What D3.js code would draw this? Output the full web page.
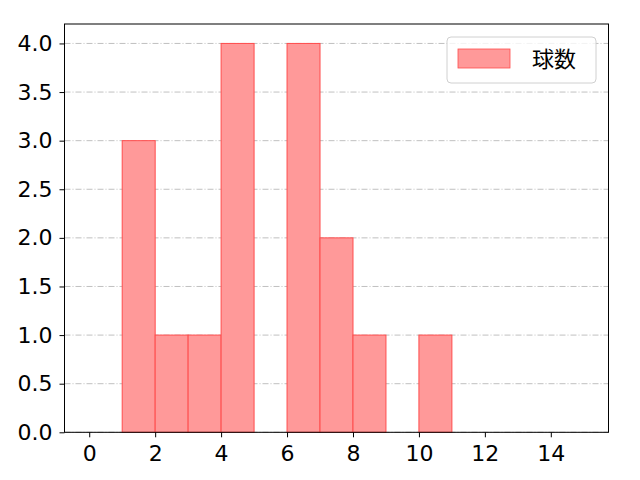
<!DOCTYPE html>
<html>
<head>
<meta charset="utf-8">
<script src="https://cdn.jsdelivr.net/npm/d3@7"></script>
<style>
  body { margin: 0; background: #fff; }
  text { font-family: "Noto Sans CJK JP", "DejaVu Sans", sans-serif; }
</style>
</head>
<body>
<div id="chart"></div>
<script>
// histogram bins (left edge, right edge) and counts
var binStarts = [1, 2, 3, 4, 5, 6, 7, 8, 9, 10];
var binEnds   = [2, 3, 4, 5, 6, 7, 8, 9, 10, 11];
var counts    = [3, 1, 1, 4, 0, 4, 2, 1, 0, 1];
var xTicks = [0, 2, 4, 6, 8, 10, 12, 14];
var yTicks = [0, 0.5, 1, 1.5, 2, 2.5, 3, 3.5, 4];
var seriesName = "球数";

var width = 640, height = 480,
    mLeft = 64.5, mRight = 608.5, mTop = 24, mBottom = 432.3;

var svg = d3.select("#chart").append("svg")
    .attr("width", width + "px")
    .attr("height", height + "px");

var x = d3.scaleLinear().domain([-0.75, 15.75]).range([mLeft, mRight]);
var y = d3.scaleLinear().domain([0, 4.2]).range([mBottom, mTop]);

// grid
svg.append("g").selectAll("line")
    .data(yTicks)
    .enter().append("line")
        .attr("x1", mLeft).attr("x2", mRight)
        .attr("y1", function(d) { return y(d); })
        .attr("y2", function(d) { return y(d); })
        .attr("stroke", "#b0b0b0")
        .attr("stroke-width", 0.8)
        .attr("stroke-dasharray", "6,2,1,2");

var bins = binStarts.map(function(s, i) { return {x0: s, x1: binEnds[i], n: counts[i]}; });
svg.append("g").selectAll("rect")
    .data(bins.filter(function(d) { return d.n > 0; }))
    .enter().append("rect")
        .attr("x", function(d) { return x(d.x0); })
        .attr("y", function(d) { return y(d.n); })
        .attr("width", function(d) { return x(d.x1) - x(d.x0); })
        .attr("height", function(d) { return y(0) - y(d.n); })
        .attr("fill", "#ff9999")
        .attr("stroke", "#ff4d4d")
        .attr("stroke-width", 1);

// axes
var xAxis = svg.append("g")
    .attr("transform", "translate(0," + mBottom + ")")
    .call(d3.axisBottom(x).tickValues(xTicks).tickSize(5).tickPadding(8).tickFormat(d3.format("d")));
var yAxis = svg.append("g")
    .attr("transform", "translate(" + mLeft + ",0)")
    .call(d3.axisLeft(y).tickValues(yTicks).tickSize(5).tickPadding(7).tickFormat(d3.format(".1f")));
[xAxis, yAxis].forEach(function(a) {
    a.select(".domain").remove();
    a.selectAll("text").attr("font-size", "22px").attr("fill", "#000")
        .style("font-family", "'DejaVu Sans', sans-serif");
    a.selectAll("line").attr("stroke", "#000").attr("stroke-width", 1);
});

svg.append("rect")
    .attr("x", mLeft).attr("y", mTop)
    .attr("width", mRight - mLeft).attr("height", mBottom - mTop)
    .attr("fill", "none").attr("stroke", "#000").attr("stroke-width", 1);

// legend
var lg = svg.append("g");
lg.append("rect")
    .attr("x", 447).attr("y", 37).attr("width", 149).attr("height", 46)
    .attr("rx", 4).attr("fill", "#fff").attr("fill-opacity", 0.8)
    .attr("stroke", "#d0d0d0").attr("stroke-width", 1);
lg.append("rect")
    .attr("x", 458).attr("y", 49).attr("width", 52).attr("height", 19)
    .attr("fill", "#ff9999").attr("stroke", "#ff4d4d").attr("stroke-width", 0.8);
lg.append("text")
    .attr("x", 532).attr("y", 67)
    .attr("font-size", "22px")
    .text(seriesName);
</script>
</body>
</html>
